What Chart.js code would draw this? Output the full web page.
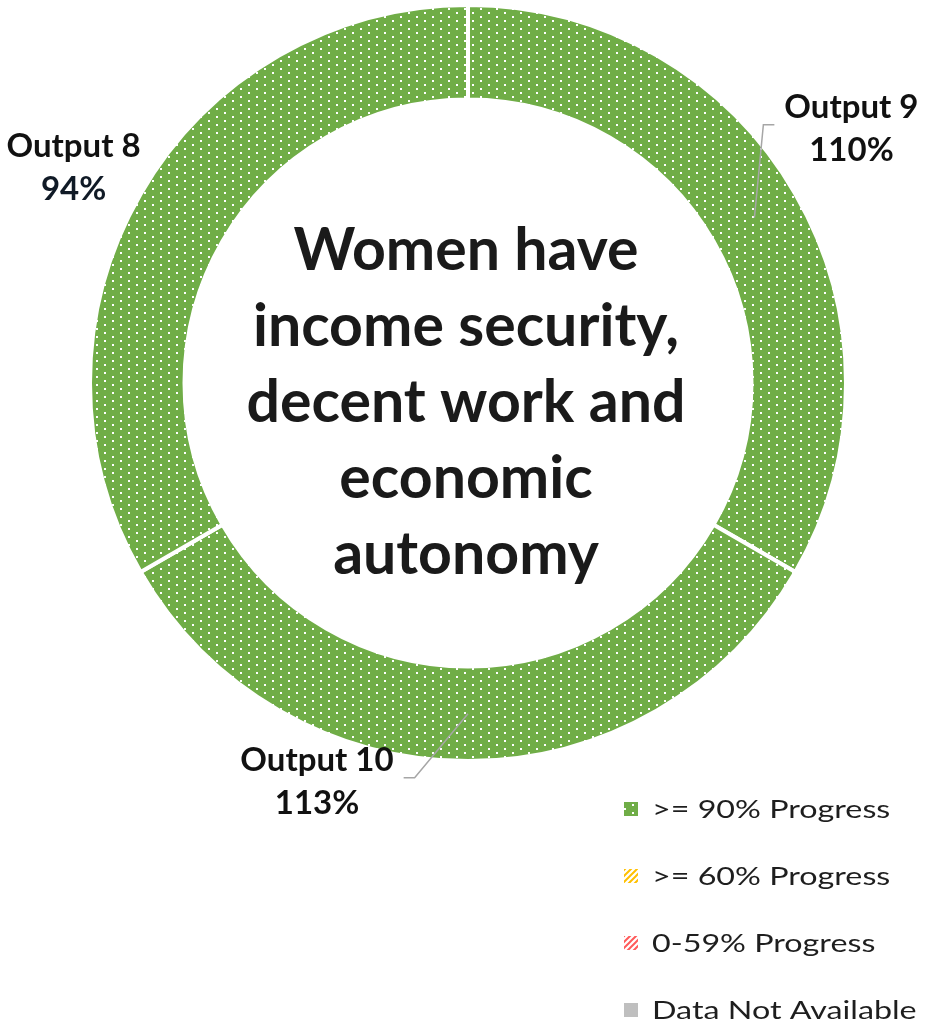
<!DOCTYPE html>
<html>
<head>
<meta charset="utf-8">
<script src="https://cdn.jsdelivr.net/npm/chart.js@4"></script>
<style>
  html, body { margin: 0; padding: 0; background: #fff; }
  #wrap { width: 926px; height: 1025px; }
</style>
</head>
<body>
<div id="wrap"><canvas id="progressChart" width="926" height="1025"></canvas></div>
<script>
// segments clockwise from the top
const categories = ['Output 9', 'Output 10', 'Output 8'];
const segmentShares = [1, 1, 1]; // the three slices are the same size
const progressPct = [110, 113, 94];
const centerLines = ['Women have', 'income security,', 'decent work and', 'economic', 'autonomy'];
const legendLabels = ['>= 90% Progress', '>= 60% Progress', '0-59% Progress', 'Data Not Available'];

// label placement relative to each slice's mid point
const labelOffsets = [[97, -100], [-151, 57], [-108, -61]];
const showLeader = [true, true, false];

function makePattern(color, kind) {
    const c = document.createElement('canvas');
    const x = c.getContext('2d');
    if (kind === 'dots') {
        c.width = 16; c.height = 8;
        x.fillStyle = color; x.fillRect(0, 0, 16, 8);
        x.fillStyle = '#ffffff';
        x.fillRect(0, 0, 2, 2);
        x.fillRect(8, 4, 2, 2);
    } else if (kind === 'hatch') {
        c.width = 6; c.height = 6;
        x.fillStyle = '#ffffff'; x.fillRect(0, 0, 6, 6);
        x.strokeStyle = color; x.lineWidth = 2;
        x.beginPath();
        x.moveTo(-1, 7); x.lineTo(7, -1);
        x.moveTo(-4, 4); x.lineTo(4, -4);
        x.moveTo(2, 10); x.lineTo(10, 2);
        x.stroke();
    } else {
        c.width = 2; c.height = 2;
        x.fillStyle = color; x.fillRect(0, 0, 2, 2);
    }
    return x.createPattern(c, 'repeat');
}

const ctx = document.getElementById('progressChart').getContext('2d');
const greenFill = makePattern('#70AD47', 'dots');
const legendFills = [
    greenFill,
    makePattern('#FFC000', 'hatch'),
    makePattern('#FF5A5A', 'hatch'),
    makePattern('#BFBFBF', 'solid')
];

function fillFor(p) {
    if (p >= 90) return legendFills[0];
    if (p >= 60) return legendFills[1];
    return legendFills[2];
}

const centerText = {
    id: 'centerText',
    afterDatasetsDraw(chart) {
        const arc = chart.getDatasetMeta(0).data[0];
        const c = chart.ctx;
        c.save();
        c.font = 'bold 59px Lato';
        c.fillStyle = '#1a1a1a';
        c.textAlign = 'center';
        c.textBaseline = 'alphabetic';
        centerLines.forEach((line, i) => {
            c.fillText(line, arc.x - 2, arc.y - 113 + i * 76);
        });
        c.restore();
    }
};

const sliceLabels = {
    id: 'sliceLabels',
    afterDatasetsDraw(chart) {
        const c = chart.ctx;
        const arcs = chart.getDatasetMeta(0).data;
        c.save();
        c.font = 'bold 33px Lato';
        c.textAlign = 'center';
        c.textBaseline = 'alphabetic';
        arcs.forEach((arc, i) => {
            const p = arc.tooltipPosition();
            const lx = p.x + labelOffsets[i][0];
            const base = p.y + labelOffsets[i][1];
            const lines = [categories[i], progressPct[i] + '%'];
            const w = Math.max(...lines.map(t => c.measureText(t).width));
            if (showLeader[i]) {
                const dir = lx > p.x ? -1 : 1;
                const edge = lx + dir * w / 2;
                const ly = base + 7;
                c.strokeStyle = '#A6A6A6';
                c.lineWidth = 1.5;
                c.beginPath();
                c.moveTo(p.x, p.y);
                c.lineTo(edge + dir * 21, ly);
                c.lineTo(edge + dir * 10, ly);
                c.stroke();
            }
            c.fillStyle = '#111111';
            c.fillText(lines[0], lx, base);
            c.fillStyle = i === 2 ? '#101a26' : '#111111';
            c.fillText(lines[1], lx, base + 43);
        });
        c.restore();
    }
};

const patternLegend = {
    id: 'patternLegend',
    afterDraw(chart) {
        const c = chart.ctx;
        c.save();
        legendFills.forEach((fill, i) => {
            const base = 818 + i * 67;
            c.fillStyle = fill;
            c.fillRect(624, base - 16, 14, 14);
            c.save();
            c.translate(652, base);
            c.scale(1.29, 1);
            c.font = '25px Lato';
            c.fillStyle = '#1e1e1e';
            c.textAlign = 'left';
            c.fillText(legendLabels[i], 0, 0);
            c.restore();
        });
        c.restore();
    }
};

const progressChart = new Chart(ctx, {
    type: 'doughnut',
    data: {
        labels: categories,
        datasets: [{
            data: segmentShares,
            backgroundColor: progressPct.map(fillFor),
            borderColor: '#ffffff',
            borderWidth: 4
        }]
    },
    options: {
        responsive: false,
        animation: false,
        cutout: '75%',
        layout: { padding: { left: 88, right: 78, top: 3, bottom: 262 } },
        plugins: {
            legend: { display: false },
            tooltip: { enabled: false }
        }
    },
    plugins: [centerText, sliceLabels, patternLegend]
});
</script>
</body>
</html>
